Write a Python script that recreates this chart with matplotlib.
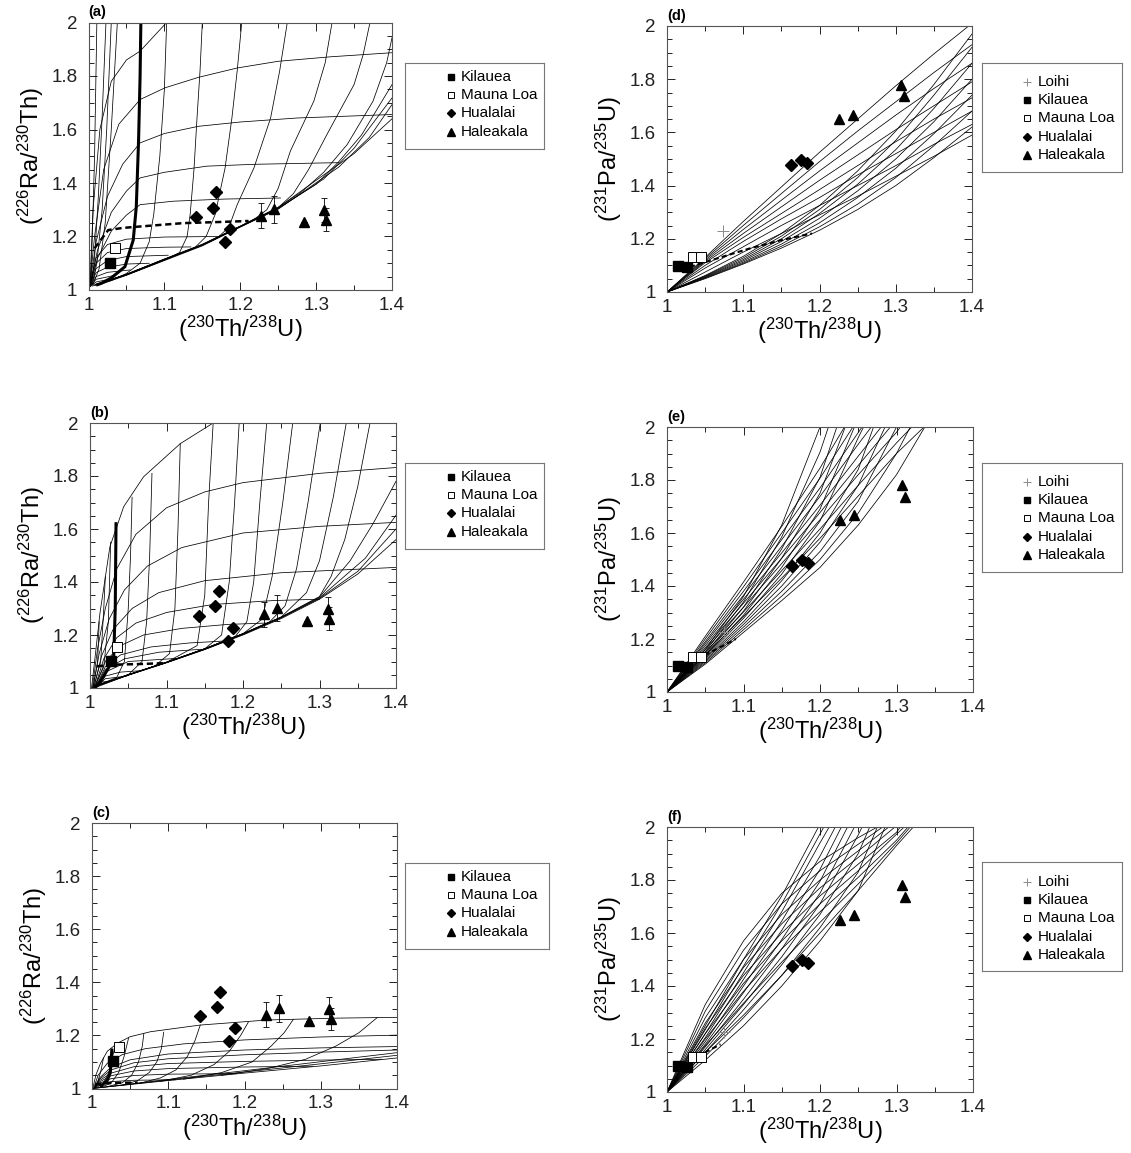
import matplotlib
matplotlib.use("Agg")
import matplotlib.pyplot as plt
from matplotlib.ticker import MultipleLocator, FuncFormatter

plt.rcParams['font.family'] = ['Liberation Sans', 'DejaVu Sans']
plt.rcParams['mathtext.fontset'] = 'custom'
plt.rcParams['mathtext.rm'] = 'Liberation Sans'
plt.rcParams['mathtext.it'] = 'Liberation Sans:italic'
plt.rcParams['mathtext.bf'] = 'Liberation Sans:bold'

# ---- measured samples ----
RA_KIL_X, RA_KIL_Y = [1.028], [1.102]
RA_MLO_X, RA_MLO_Y = [1.035], [1.156]
RA_HUA_X = [1.142, 1.164, 1.168, 1.180, 1.187]
RA_HUA_Y = [1.272, 1.308, 1.365, 1.178, 1.228]
RA_HAL_X = [1.228, 1.245, 1.284, 1.311, 1.313]
RA_HAL_Y = [1.278, 1.302, 1.253, 1.299, 1.262]
RA_HAL_ERR = [0.048, 0.050, 0.0, 0.046, 0.043]

PA_LOI_X, PA_LOI_Y = [1.074], [1.228]
PA_KIL_X, PA_KIL_Y = [1.015, 1.026], [1.097, 1.094]
PA_MLO_X, PA_MLO_Y = [1.034, 1.044], [1.132, 1.132]
PA_HUA_X = [1.163, 1.176, 1.184]
PA_HUA_Y = [1.476, 1.498, 1.486]
PA_HAL_X = [1.226, 1.244, 1.307, 1.311]
PA_HAL_Y = [1.650, 1.667, 1.780, 1.737]

# ---- model grid (a) ----
RA_A_ENV = ([1.005, 1.02, 1.05, 1.1, 1.15, 1.2, 1.244, 1.3, 1.35, 1.4],
            [1.015, 1.025, 1.055, 1.11, 1.165, 1.235, 1.296, 1.41, 1.51, 1.64])
RA_A_STEEP = [
    ([1.003, 1.005, 1.008, 1.011], [1.02, 1.2, 1.5, 2.0]),
    ([1.004, 1.008, 1.013, 1.018, 1.023], [1.02, 1.12, 1.35, 1.65, 2.0]),
    ([1.005, 1.011, 1.018, 1.024, 1.030], [1.02, 1.1, 1.3, 1.6, 2.0]),
    ([1.006, 1.014, 1.022, 1.030, 1.038], [1.02, 1.08, 1.25, 1.6, 2.0]),
    ([1.008, 1.03, 1.05, 1.068, 1.08, 1.086, 1.094, 1.100, 1.103],
     [1.02, 1.035, 1.062, 1.1, 1.18, 1.283, 1.5, 1.75, 2.0]),
    ([1.01, 1.05, 1.1, 1.12, 1.13, 1.134, 1.139, 1.143, 1.147, 1.150],
     [1.02, 1.056, 1.112, 1.14, 1.2, 1.283, 1.45, 1.643, 1.82, 2.0]),
    ([1.01, 1.05, 1.1, 1.14, 1.155, 1.167, 1.180, 1.189, 1.196, 1.202],
     [1.02, 1.057, 1.113, 1.158, 1.2, 1.283, 1.456, 1.643, 1.82, 2.0]),
    ([1.01, 1.05, 1.1, 1.15, 1.17, 1.185, 1.196, 1.218, 1.24, 1.252, 1.262],
     [1.02, 1.058, 1.114, 1.168, 1.195, 1.235, 1.319, 1.456, 1.643, 1.82, 2.0]),
    ([1.01, 1.05, 1.1, 1.15, 1.2, 1.22, 1.235, 1.25, 1.266, 1.297, 1.312, 1.321],
     [1.02, 1.058, 1.115, 1.169, 1.237, 1.268, 1.30, 1.38, 1.519, 1.706, 1.85, 2.0]),
    ([1.01, 1.05, 1.1, 1.15, 1.2, 1.25, 1.27, 1.29, 1.314, 1.35, 1.362, 1.371],
     [1.02, 1.059, 1.115, 1.17, 1.238, 1.308, 1.36, 1.45, 1.58, 1.768, 1.88, 2.0]),
    ([1.01, 1.05, 1.1, 1.15, 1.2, 1.25, 1.28, 1.31, 1.341, 1.375, 1.393, 1.4],
     [1.02, 1.059, 1.116, 1.171, 1.239, 1.309, 1.365, 1.44, 1.544, 1.706, 1.85, 1.943]),
    ([1.01, 1.05, 1.1, 1.15, 1.2, 1.25, 1.3, 1.33, 1.36, 1.4],
     [1.02, 1.058, 1.114, 1.169, 1.238, 1.306, 1.395, 1.48, 1.58, 1.768]),
    ([1.01, 1.05, 1.1, 1.15, 1.2, 1.25, 1.31, 1.35, 1.4],
     [1.02, 1.057, 1.113, 1.168, 1.237, 1.304, 1.415, 1.53, 1.718]),
    ([1.01, 1.05, 1.1, 1.15, 1.2, 1.25, 1.33, 1.37, 1.4],
     [1.02, 1.056, 1.112, 1.167, 1.236, 1.302, 1.46, 1.57, 1.693]),
]
RA_A_FLAT = [
    ([1.002, 1.006, 1.015, 1.03, 1.05, 1.068, 1.085, 1.103],
     [1.03, 1.3, 1.6, 1.78, 1.86, 1.893, 1.945, 2.0]),
    ([1.002, 1.008, 1.02, 1.04, 1.068, 1.101, 1.145, 1.196, 1.25, 1.32, 1.4],
     [1.03, 1.2, 1.45, 1.62, 1.712, 1.756, 1.795, 1.83, 1.855, 1.872, 1.887]),
    ([1.002, 1.01, 1.025, 1.045, 1.068, 1.1, 1.145, 1.2, 1.275, 1.4],
     [1.025, 1.18, 1.35, 1.47, 1.55, 1.585, 1.612, 1.628, 1.643, 1.656]),
    ([1.002, 1.012, 1.03, 1.05, 1.068, 1.1, 1.156, 1.22, 1.31, 1.33],
     [1.02, 1.15, 1.29, 1.37, 1.419, 1.44, 1.463, 1.47, 1.475, 1.476]),
    ([1.002, 1.012, 1.03, 1.05, 1.068, 1.112, 1.18, 1.253],
     [1.02, 1.12, 1.22, 1.28, 1.319, 1.332, 1.34, 1.344]),
    ([1.002, 1.01, 1.025, 1.05, 1.1, 1.17], [1.02, 1.12, 1.17, 1.19, 1.198, 1.2]),
    ([1.002, 1.01, 1.025, 1.05, 1.1, 1.135], [1.02, 1.1, 1.14, 1.155, 1.16, 1.161]),
    ([1.002, 1.01, 1.025, 1.05, 1.105], [1.018, 1.08, 1.11, 1.125, 1.13]),
    ([1.002, 1.01, 1.025, 1.05, 1.08], [1.016, 1.065, 1.085, 1.097, 1.1]),
    ([1.002, 1.01, 1.025, 1.055], [1.015, 1.05, 1.066, 1.075]),
    ([1.002, 1.01, 1.035], [1.013, 1.04, 1.055]),
    ([1.002, 1.01, 1.022], [1.012, 1.03, 1.037]),
]
RA_A_THICK = ([1.012, 1.017, 1.03, 1.048, 1.059, 1.063, 1.066, 1.068, 1.069],
              [1.02, 1.025, 1.045, 1.087, 1.187, 1.312, 1.56, 1.8, 2.0])
RA_A_DASH = ([1.008, 1.013, 1.026, 1.045, 1.066, 1.125, 1.17, 1.211],
             [1.156, 1.175, 1.224, 1.232, 1.237, 1.25, 1.254, 1.258])

# ---- model grid (b) ----
RA_B_ENV = ([1.003, 1.02, 1.05, 1.1, 1.15, 1.2, 1.25, 1.3, 1.35, 1.4],
            [1.0, 1.018, 1.048, 1.095, 1.145, 1.2, 1.262, 1.335, 1.43, 1.56])
RA_B_STEEP = [
    ([1.004, 1.01, 1.012], [1.005, 1.1, 1.25]),
    ([1.005, 1.014, 1.018, 1.02], [1.005, 1.1, 1.3, 1.42]),
    ([1.006, 1.018, 1.024, 1.027], [1.005, 1.08, 1.25, 1.55]),
    ([1.01, 1.035, 1.045, 1.05, 1.053, 1.055], [1.01, 1.04, 1.1, 1.3, 1.5, 1.72]),
    ([1.01, 1.05, 1.068, 1.074, 1.078, 1.081], [1.01, 1.05, 1.1, 1.25, 1.5, 1.81]),
    ([1.01, 1.05, 1.085, 1.104, 1.111, 1.115, 1.118], [1.01, 1.049, 1.084, 1.13, 1.3, 1.6, 1.922]),
    ([1.01, 1.05, 1.1, 1.14, 1.15, 1.155, 1.161], [1.01, 1.05, 1.097, 1.16, 1.35, 1.7, 2.0]),
    ([1.01, 1.05, 1.1, 1.15, 1.172, 1.182, 1.189, 1.195],
     [1.01, 1.05, 1.097, 1.148, 1.2, 1.4, 1.7, 2.0]),
    ([1.01, 1.05, 1.1, 1.15, 1.19, 1.205, 1.214, 1.222, 1.231],
     [1.01, 1.05, 1.097, 1.148, 1.195, 1.25, 1.4, 1.7, 2.0]),
    ([1.01, 1.05, 1.1, 1.15, 1.2, 1.225, 1.238, 1.252, 1.265],
     [1.01, 1.05, 1.097, 1.148, 1.205, 1.26, 1.42, 1.7, 2.0]),
    ([1.01, 1.05, 1.1, 1.15, 1.2, 1.235, 1.255, 1.27, 1.285, 1.301],
     [1.01, 1.05, 1.097, 1.148, 1.205, 1.25, 1.31, 1.45, 1.7, 2.0]),
    ([1.01, 1.05, 1.1, 1.15, 1.2, 1.25, 1.283, 1.3, 1.318, 1.335],
     [1.01, 1.05, 1.097, 1.148, 1.205, 1.268, 1.36, 1.48, 1.72, 2.0]),
    ([1.01, 1.05, 1.1, 1.15, 1.2, 1.25, 1.3, 1.315, 1.333, 1.35, 1.366],
     [1.01, 1.05, 1.097, 1.148, 1.205, 1.268, 1.345, 1.42, 1.56, 1.76, 2.0]),
    ([1.01, 1.05, 1.1, 1.15, 1.2, 1.25, 1.3, 1.34, 1.37, 1.4],
     [1.01, 1.05, 1.096, 1.147, 1.204, 1.267, 1.343, 1.48, 1.62, 1.78]),
    ([1.01, 1.05, 1.1, 1.15, 1.2, 1.25, 1.3, 1.36, 1.4],
     [1.01, 1.049, 1.096, 1.146, 1.203, 1.266, 1.34, 1.49, 1.652]),
    ([1.01, 1.05, 1.1, 1.15, 1.2, 1.25, 1.3, 1.35, 1.4],
     [1.005, 1.049, 1.096, 1.146, 1.202, 1.265, 1.338, 1.44, 1.60]),
]
RA_B_FLAT = [
    ([1.002, 1.006, 1.013, 1.026, 1.044, 1.07, 1.118, 1.161],
     [1.0, 1.1, 1.282, 1.533, 1.684, 1.797, 1.922, 2.0]),
    ([1.003, 1.01, 1.02, 1.035, 1.06, 1.1, 1.15, 1.2, 1.3, 1.4],
     [1.0, 1.15, 1.3, 1.45, 1.58, 1.68, 1.74, 1.775, 1.81, 1.832]),
    ([1.004, 1.012, 1.025, 1.045, 1.075, 1.12, 1.2, 1.3, 1.4],
     [1.0, 1.13, 1.26, 1.37, 1.46, 1.53, 1.585, 1.61, 1.625]),
    ([1.005, 1.015, 1.03, 1.055, 1.09, 1.15, 1.25, 1.4],
     [1.0, 1.12, 1.22, 1.3, 1.36, 1.405, 1.435, 1.455]),
    ([1.006, 1.018, 1.035, 1.06, 1.1, 1.16, 1.24, 1.3],
     [1.0, 1.11, 1.19, 1.245, 1.285, 1.315, 1.33, 1.335]),
    ([1.006, 1.02, 1.04, 1.07, 1.12, 1.18, 1.23], [1.0, 1.1, 1.16, 1.2, 1.225, 1.24, 1.245]),
    ([1.007, 1.02, 1.04, 1.08, 1.13, 1.18], [1.0, 1.08, 1.125, 1.155, 1.17, 1.178]),
    ([1.007, 1.02, 1.045, 1.09, 1.145], [1.0, 1.07, 1.11, 1.135, 1.146]),
    ([1.007, 1.02, 1.05, 1.115], [1.0, 1.06, 1.1, 1.112]),
    ([1.007, 1.02, 1.04, 1.07], [1.0, 1.045, 1.06, 1.066]),
    ([1.006, 1.02, 1.048], [1.0, 1.035, 1.045]),
    ([1.005, 1.015, 1.03], [1.0, 1.022, 1.028]),
]
RA_B_THICK = ([1.008, 1.015, 1.025, 1.031, 1.033, 1.034], [1.005, 1.03, 1.08, 1.12, 1.3, 1.62])
RA_B_DASH = ([1.009, 1.03, 1.06, 1.1], [1.082, 1.088, 1.09, 1.094])

# ---- model grid (c) ----
RA_C_ENV = ([1.0, 1.05, 1.1, 1.2, 1.3, 1.4], [1.0, 1.015, 1.03, 1.058, 1.085, 1.115])
RA_C_FLAT = [
    ([1.001, 1.005, 1.011, 1.02, 1.033, 1.05, 1.077, 1.142, 1.23, 1.32, 1.4],
     [1.0, 1.05, 1.094, 1.14, 1.17, 1.195, 1.214, 1.239, 1.258, 1.265, 1.268]),
    ([1.002, 1.008, 1.02, 1.04, 1.07, 1.12, 1.2, 1.3, 1.4],
     [1.0, 1.05, 1.095, 1.128, 1.15, 1.168, 1.183, 1.194, 1.201]),
    ([1.003, 1.01, 1.025, 1.05, 1.1, 1.2, 1.3, 1.4],
     [1.0, 1.04, 1.08, 1.108, 1.13, 1.145, 1.153, 1.158]),
    ([1.003, 1.01, 1.025, 1.055, 1.1, 1.2, 1.3, 1.4],
     [1.0, 1.035, 1.07, 1.097, 1.112, 1.127, 1.137, 1.145]),
    ([1.003, 1.01, 1.025, 1.055, 1.1, 1.2, 1.3, 1.38],
     [1.0, 1.03, 1.058, 1.082, 1.094, 1.102, 1.107, 1.11]),
    ([1.003, 1.01, 1.025, 1.055, 1.1, 1.2, 1.29],
     [1.0, 1.025, 1.048, 1.066, 1.075, 1.081, 1.084]),
    ([1.002, 1.01, 1.025, 1.055, 1.1, 1.19], [1.0, 1.02, 1.037, 1.049, 1.054, 1.056]),
    ([1.002, 1.01, 1.025, 1.055, 1.11], [1.0, 1.015, 1.026, 1.031, 1.033]),
    ([1.0, 1.05, 1.1, 1.2, 1.3, 1.4], [1.0, 1.016, 1.032, 1.062, 1.093, 1.125]),
    ([1.0, 1.05, 1.1, 1.2, 1.3, 1.4], [1.0, 1.017, 1.034, 1.067, 1.101, 1.135]),
]
RA_C_STEEP = [
    ([1.003, 1.008, 1.012, 1.015], [1.003, 1.03, 1.07, 1.115]),
    ([1.006, 1.015, 1.022, 1.027, 1.031], [1.004, 1.02, 1.06, 1.12, 1.166]),
    ([1.012, 1.025, 1.035, 1.042, 1.048], [1.005, 1.02, 1.06, 1.12, 1.19]),
    ([1.02, 1.04, 1.052, 1.061, 1.066, 1.068], [1.007, 1.022, 1.05, 1.1, 1.16, 1.207]),
    ([1.04, 1.06, 1.075, 1.085, 1.091, 1.094], [1.012, 1.03, 1.06, 1.1, 1.15, 1.212]),
    ([1.06, 1.09, 1.11, 1.125, 1.135, 1.142], [1.018, 1.04, 1.07, 1.12, 1.18, 1.239]),
    ([1.09, 1.13, 1.16, 1.18, 1.195, 1.205], [1.027, 1.05, 1.09, 1.14, 1.2, 1.25]),
    ([1.12, 1.17, 1.21, 1.235, 1.252, 1.264], [1.035, 1.06, 1.1, 1.16, 1.21, 1.26]),
    ([1.17, 1.23, 1.28, 1.32, 1.35, 1.374], [1.05, 1.075, 1.11, 1.16, 1.21, 1.267]),
]
RA_C_THICK = ([1.012, 1.02, 1.024, 1.025, 1.026], [1.01, 1.03, 1.06, 1.1, 1.145])
RA_C_DASH = ([1.004, 1.02, 1.04, 1.06], [1.016, 1.02, 1.022, 1.022])

# ---- model grid (d) ----
PA_D_X = [1.0, 1.05, 1.1, 1.15, 1.2, 1.25, 1.3, 1.35, 1.4]
PA_D_Q = [
    [1.0, 1.13, 1.265, 1.395, 1.525, 1.65, 1.775, 1.895, 2.01],
    [1.0, 1.125, 1.25, 1.37, 1.49, 1.605, 1.715, 1.825, 1.93],
    [1.0, 1.12, 1.235, 1.345, 1.455, 1.56, 1.665, 1.765, 1.86],
    [1.0, 1.115, 1.22, 1.32, 1.42, 1.515, 1.61, 1.70, 1.79],
    [1.0, 1.11, 1.205, 1.295, 1.385, 1.475, 1.565, 1.65, 1.73],
    [1.0, 1.10, 1.19, 1.275, 1.355, 1.44, 1.52, 1.60, 1.68],
    [1.0, 1.09, 1.17, 1.25, 1.325, 1.40, 1.475, 1.555, 1.63],
    [1.0, 1.075, 1.15, 1.22, 1.29, 1.36, 1.435, 1.51, 1.59],
]
PA_D_P = [
    [1.0, 1.05, 1.105, 1.165, 1.232, 1.31, 1.40, 1.505, 1.62],
    [1.0, 1.052, 1.108, 1.172, 1.245, 1.33, 1.43, 1.55, 1.68],
    [1.0, 1.054, 1.112, 1.18, 1.26, 1.355, 1.465, 1.595, 1.74],
    [1.0, 1.056, 1.117, 1.19, 1.277, 1.38, 1.50, 1.64, 1.80],
    [1.0, 1.058, 1.122, 1.2, 1.295, 1.405, 1.535, 1.69, 1.86],
    [1.0, 1.06, 1.128, 1.21, 1.31, 1.43, 1.57, 1.74, 1.92],
    [1.0, 1.062, 1.134, 1.22, 1.325, 1.455, 1.605, 1.78, 1.97],
]
PA_D_DASH = ([1.03, 1.07, 1.11, 1.15, 1.19], [1.094, 1.13, 1.165, 1.195, 1.22])

# ---- model grid (e) ----
PA_E_A = [
    ([1.0, 1.05, 1.1, 1.15, 1.2, 1.232], [1.0, 1.21, 1.415, 1.625, 1.845, 2.0]),
    ([1.0, 1.05, 1.1, 1.15, 1.2, 1.243], [1.0, 1.20, 1.397, 1.60, 1.807, 2.0]),
    ([1.0, 1.05, 1.1, 1.15, 1.2, 1.255], [1.0, 1.19, 1.38, 1.575, 1.77, 2.0]),
    ([1.0, 1.05, 1.1, 1.15, 1.2, 1.25, 1.267], [1.0, 1.183, 1.365, 1.55, 1.738, 1.935, 2.0]),
    ([1.0, 1.05, 1.1, 1.15, 1.2, 1.25, 1.28], [1.0, 1.175, 1.35, 1.525, 1.705, 1.89, 2.0]),
    ([1.0, 1.05, 1.1, 1.15, 1.2, 1.25, 1.292], [1.0, 1.167, 1.335, 1.505, 1.677, 1.855, 2.0]),
    ([1.0, 1.05, 1.1, 1.15, 1.2, 1.25, 1.3, 1.305], [1.0, 1.16, 1.32, 1.485, 1.65, 1.82, 1.98, 2.0]),
    ([1.0, 1.05, 1.1, 1.15, 1.2, 1.25, 1.3, 1.32], [1.0, 1.15, 1.302, 1.458, 1.615, 1.78, 1.94, 2.0]),
    ([1.0, 1.05, 1.1, 1.15, 1.2, 1.25, 1.3, 1.336], [1.0, 1.14, 1.285, 1.43, 1.58, 1.74, 1.9, 2.0]),
]
PA_E_B = [
    ([1.0, 1.05, 1.1, 1.15, 1.2], [1.0, 1.16, 1.36, 1.63, 2.0]),
    ([1.0, 1.05, 1.1, 1.15, 1.2, 1.211], [1.0, 1.152, 1.34, 1.585, 1.905, 2.0]),
    ([1.0, 1.05, 1.1, 1.15, 1.2, 1.222], [1.0, 1.145, 1.32, 1.54, 1.81, 2.0]),
    ([1.0, 1.05, 1.1, 1.15, 1.2, 1.233], [1.0, 1.14, 1.305, 1.505, 1.75, 2.0]),
    ([1.0, 1.05, 1.1, 1.15, 1.2, 1.245], [1.0, 1.135, 1.29, 1.47, 1.69, 2.0]),
    ([1.0, 1.05, 1.1, 1.15, 1.2, 1.25, 1.257], [1.0, 1.13, 1.278, 1.445, 1.645, 1.96, 2.0]),
    ([1.0, 1.05, 1.1, 1.15, 1.2, 1.25, 1.27], [1.0, 1.125, 1.265, 1.42, 1.6, 1.84, 2.0]),
    ([1.0, 1.05, 1.1, 1.15, 1.2, 1.25, 1.285], [1.0, 1.12, 1.255, 1.40, 1.565, 1.78, 2.0]),
    ([1.0, 1.05, 1.1, 1.15, 1.2, 1.25, 1.3], [1.0, 1.115, 1.245, 1.38, 1.53, 1.72, 2.0]),
    ([1.0, 1.05, 1.1, 1.15, 1.2, 1.25, 1.3, 1.318], [1.0, 1.11, 1.235, 1.362, 1.50, 1.675, 1.90, 2.0]),
    ([1.0, 1.05, 1.1, 1.15, 1.2, 1.25, 1.3, 1.337], [1.0, 1.105, 1.225, 1.345, 1.47, 1.63, 1.82, 2.0]),
]
PA_E_DASH = ([1.03, 1.06, 1.09], [1.11, 1.155, 1.2])

# ---- model grid (f) ----
PA_F_A = [
    ([1.0, 1.05, 1.1, 1.15, 1.2, 1.25, 1.275], [1.0, 1.33, 1.57, 1.75, 1.87, 1.96, 2.0]),
    ([1.0, 1.05, 1.1, 1.15, 1.2, 1.25, 1.282], [1.0, 1.305, 1.535, 1.71, 1.835, 1.935, 2.0]),
    ([1.0, 1.05, 1.1, 1.15, 1.2, 1.25, 1.29], [1.0, 1.28, 1.5, 1.67, 1.8, 1.91, 2.0]),
    ([1.0, 1.05, 1.1, 1.15, 1.2, 1.25, 1.298], [1.0, 1.26, 1.47, 1.635, 1.77, 1.885, 2.0]),
    ([1.0, 1.05, 1.1, 1.15, 1.2, 1.25, 1.3, 1.305], [1.0, 1.24, 1.44, 1.6, 1.74, 1.86, 1.98, 2.0]),
    ([1.0, 1.05, 1.1, 1.15, 1.2, 1.25, 1.31], [1.0, 1.22, 1.41, 1.57, 1.71, 1.835, 2.0]),
    ([1.0, 1.05, 1.1, 1.15, 1.2, 1.25, 1.3, 1.315], [1.0, 1.2, 1.38, 1.54, 1.68, 1.81, 1.95, 2.0]),
    ([1.0, 1.05, 1.1, 1.15, 1.2, 1.25, 1.3, 1.318], [1.0, 1.175, 1.335, 1.49, 1.64, 1.785, 1.94, 2.0]),
    ([1.0, 1.05, 1.1, 1.15, 1.2, 1.25, 1.3, 1.322], [1.0, 1.15, 1.29, 1.44, 1.6, 1.76, 1.93, 2.0]),
]
PA_F_B = [
    ([1.0, 1.05, 1.1, 1.15, 1.198], [1.0, 1.25, 1.5, 1.74, 2.0]),
    ([1.0, 1.05, 1.1, 1.15, 1.205], [1.0, 1.235, 1.475, 1.71, 2.0]),
    ([1.0, 1.05, 1.1, 1.15, 1.2, 1.212], [1.0, 1.22, 1.45, 1.68, 1.94, 2.0]),
    ([1.0, 1.05, 1.1, 1.15, 1.2, 1.22], [1.0, 1.205, 1.425, 1.645, 1.89, 2.0]),
    ([1.0, 1.05, 1.1, 1.15, 1.2, 1.228], [1.0, 1.19, 1.4, 1.61, 1.84, 2.0]),
    ([1.0, 1.05, 1.1, 1.15, 1.2, 1.236], [1.0, 1.18, 1.375, 1.575, 1.795, 2.0]),
    ([1.0, 1.05, 1.1, 1.15, 1.2, 1.245], [1.0, 1.17, 1.35, 1.54, 1.75, 2.0]),
    ([1.0, 1.05, 1.1, 1.15, 1.2, 1.25, 1.255], [1.0, 1.16, 1.33, 1.51, 1.71, 1.97, 2.0]),
    ([1.0, 1.05, 1.1, 1.15, 1.2, 1.25, 1.265], [1.0, 1.15, 1.31, 1.48, 1.67, 1.9, 2.0]),
    ([1.0, 1.05, 1.1, 1.15, 1.2, 1.25, 1.275], [1.0, 1.135, 1.28, 1.44, 1.62, 1.83, 2.0]),
    ([1.0, 1.05, 1.1, 1.15, 1.2, 1.25, 1.285], [1.0, 1.12, 1.25, 1.4, 1.57, 1.76, 2.0]),
]
PA_F_DASH = ([1.03, 1.05, 1.07], [1.12, 1.15, 1.18])

TAGS = ['(a)', '(b)', '(c)', '(d)', '(e)', '(f)']
RA_LABEL = r'($^{226}$Ra/$^{230}$Th)'
PA_LABEL = r'($^{231}$Pa/$^{235}$U)'
TH_LABEL = r'($^{230}$Th/$^{238}$U)'
LEG_RA = ['Kilauea', 'Mauna Loa', 'Hualalai', 'Haleakala']
LEG_PA = ['Loihi', 'Kilauea', 'Mauna Loa', 'Hualalai', 'Haleakala']

W, H = 1131, 1153
fig = plt.figure(figsize=(W / 100, H / 100), dpi=100)


def box(l, t, r, b):
    return [l / W, 1 - b / H, (r - l) / W, (b - t) / H]


STY = {
    'Loihi': dict(marker='+', color='#8a8a8a', ms=8, mew=0.7, ls='none'),
    'Kilauea': dict(marker='s', mfc='black', mec='black', ms=6.5, ls='none'),
    'Mauna Loa': dict(marker='s', mfc='white', mec='black', ms=6.5, mew=0.7, ls='none'),
    'Hualalai': dict(marker='D', mfc='black', mec='black', ms=6, ls='none'),
    'Haleakala': dict(marker='^', mfc='black', mec='black', ms=7.5, ls='none'),
}
fmt = FuncFormatter(lambda v, _: '%g' % round(v, 2))


def style(ax, ylab, tag):
    ax.set_xlim(1, 1.4)
    ax.set_ylim(1, 2)
    ax.xaxis.set_major_locator(MultipleLocator(0.1))
    ax.xaxis.set_minor_locator(MultipleLocator(0.05))
    ax.yaxis.set_major_locator(MultipleLocator(0.2))
    ax.yaxis.set_minor_locator(MultipleLocator(0.05))
    ax.xaxis.set_major_formatter(fmt)
    ax.yaxis.set_major_formatter(fmt)
    ax.tick_params(which='both', direction='in', top=True, right=True, width=0.7, colors='#222')
    ax.tick_params(which='major', length=6, labelsize=13.5)
    ax.tick_params(which='minor', length=3.5)
    ax.tick_params(axis='y', which='major', pad=8)
    ax.tick_params(axis='x', which='major', pad=5)
    for s in ax.spines.values():
        s.set_linewidth(0.8)
        s.set_color('#555')
    ax.set_xlabel(TH_LABEL, fontsize=17, labelpad=0)
    ax.set_ylabel(ylab, fontsize=17, labelpad=4)
    ax.text(0.0, 1.012, tag, transform=ax.transAxes, fontsize=10.5,
            fontweight='bold', va='bottom', ha='left')


def grid(ax, curves):
    for xs, ys in curves:
        ax.plot(xs, ys, color='black', lw=0.55)


def ra_data(ax):
    ax.errorbar(RA_HAL_X, RA_HAL_Y, yerr=RA_HAL_ERR, fmt='none', ecolor='black',
                elinewidth=0.6, capsize=2, capthick=0.6, zorder=4)
    ax.plot(RA_KIL_X, RA_KIL_Y, zorder=5, **STY['Kilauea'])
    ax.plot(RA_MLO_X, RA_MLO_Y, zorder=5, **STY['Mauna Loa'])
    ax.plot(RA_HUA_X, RA_HUA_Y, zorder=5, **STY['Hualalai'])
    ax.plot(RA_HAL_X, RA_HAL_Y, zorder=5, **STY['Haleakala'])


def pa_data(ax):
    ax.plot(PA_LOI_X, PA_LOI_Y, zorder=5, **STY['Loihi'])
    ax.plot(PA_KIL_X, PA_KIL_Y, zorder=5, **STY['Kilauea'])
    ax.plot(PA_MLO_X, PA_MLO_Y, zorder=5, **STY['Mauna Loa'])
    ax.plot(PA_HUA_X, PA_HUA_Y, zorder=5, **STY['Hualalai'])
    ax.plot(PA_HAL_X, PA_HAL_Y, zorder=5, **STY['Haleakala'])


def legend(l, t, r, b, labels, mx, tx, y0, dy):
    lax = fig.add_axes(box(l, t, r, b))
    lax.set_xlim(l, r)
    lax.set_ylim(b, t)
    lax.set_xticks([])
    lax.set_yticks([])
    for s in lax.spines.values():
        s.set_linewidth(0.8)
        s.set_color('#777')
    for i, lab in enumerate(labels):
        y = y0 + i * dy
        st = dict(STY[lab])
        st['ms'] = st['ms'] * 0.75
        lax.plot([mx], [y], **st)
        lax.text(tx, y, lab, fontsize=11, va='center', ha='left')


# (a)
ax = fig.add_axes(box(88.5, 22.5, 392, 290))
grid(ax, [RA_A_ENV] + RA_A_STEEP + RA_A_FLAT)
ax.plot(*RA_A_THICK, color='black', lw=2.2)
ax.plot(*RA_A_DASH, color='black', lw=1.8, dashes=(2.5, 1.5))
ra_data(ax)
style(ax, RA_LABEL, TAGS[0])
legend(405, 63, 544, 149, LEG_RA, 451, 461, 76.7, 18.3)

# (b)
ax = fig.add_axes(box(90, 423, 396, 688))
grid(ax, [RA_B_ENV] + RA_B_STEEP + RA_B_FLAT)
ax.plot(*RA_B_THICK, color='black', lw=2.2)
ax.plot(*RA_B_DASH, color='black', lw=1.8, dashes=(2.5, 1.5))
ra_data(ax)
style(ax, RA_LABEL, TAGS[1])
legend(405, 463, 544, 549, LEG_RA, 451, 461, 476.7, 18.3)

# (c)
ax = fig.add_axes(box(92, 823, 397, 1088.5))
grid(ax, [RA_C_ENV] + RA_C_STEEP + RA_C_FLAT)
ax.plot(*RA_C_THICK, color='black', lw=2.2)
ax.plot(*RA_C_DASH, color='black', lw=1.8, dashes=(2.5, 1.5))
ra_data(ax)
style(ax, RA_LABEL, TAGS[2])
legend(405, 863, 549, 949, LEG_RA, 451, 461, 876.7, 18.3)

# (d)
ax = fig.add_axes(box(667, 26, 972, 292))
grid(ax, [(PA_D_X, ys) for ys in PA_D_Q + PA_D_P])
ax.plot(*PA_D_DASH, color='black', lw=1.5, dashes=(2.5, 1.5))
pa_data(ax)
style(ax, PA_LABEL, TAGS[3])
legend(982, 63, 1122, 172, LEG_PA, 1027, 1038, 81.7, 18.3)

# (e)
ax = fig.add_axes(box(667, 427, 973, 692))
grid(ax, PA_E_A + PA_E_B)
ax.plot(*PA_E_DASH, color='black', lw=1.5, dashes=(2.5, 1.5))
pa_data(ax)
style(ax, PA_LABEL, TAGS[4])
legend(982, 463, 1122, 572, LEG_PA, 1027, 1038, 481.7, 18.3)

# (f)
ax = fig.add_axes(box(667, 827, 973, 1092))
grid(ax, PA_F_A + PA_F_B)
ax.plot(*PA_F_DASH, color='black', lw=1.5, dashes=(2.5, 1.5))
pa_data(ax)
style(ax, PA_LABEL, TAGS[5])
legend(982, 862, 1122, 971, LEG_PA, 1027, 1038, 881.7, 18.3)

fig.savefig('out.png', dpi=100)
